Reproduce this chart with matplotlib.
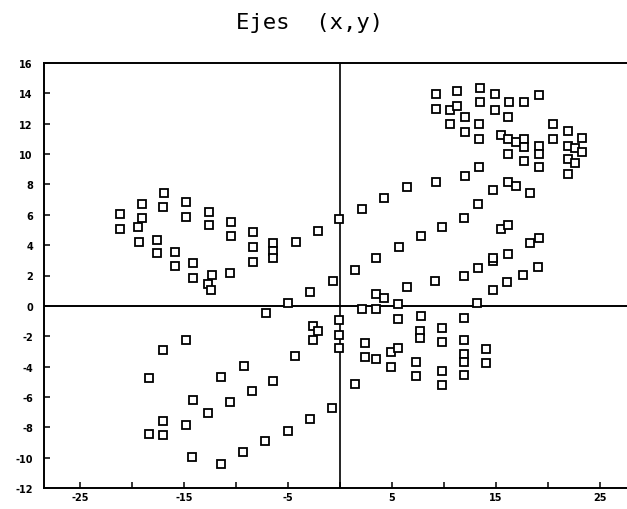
import matplotlib
matplotlib.use("Agg")
import matplotlib.pyplot as plt

title = "Ejes  (x,y)"

x_vals = [
    -16.9, -19.0, -17.0, -14.8, -21.2, -19.0, -14.8, -12.6, -21.2, -19.4,
    -12.6, -10.5, -19.3, -17.6, -10.5, -8.4, -17.6, -15.9, -8.4, -8.4,
    -15.9, -14.1, -14.1, -12.3, -12.7, -12.4, -10.6,
    -14.8, -17.0, -9.2, -18.4, -11.4, -8.5, -14.1, -10.6, -12.7, -17.0,
    -14.8, -18.4, -17.0, -14.2, -11.4, -9.3,
    -7.2, -5.0, -2.9, -0.8, 1.4, -6.4, -4.3, -2.6, -2.1, -2.6,
    -0.1, -0.1, -0.1, -7.1, -5.0, -2.9, -0.7, 1.4, 3.5,
    -6.4, -6.4, -6.4, -4.2, -2.1, -0.1, 2.1, 4.2, 6.4, 9.2,
    3.5, 4.2, 2.1, 3.5, 5.6, 5.6, 6.4, 5.7, 7.8, 9.8,
    2.4, 2.4, 3.5, 4.9, 5.6, 4.9, 7.3, 7.3, 7.8, 7.7, 7.7,
    9.8, 9.8, 9.8, 9.8,
    11.9, 11.9, 14.0, 11.9, 11.9, 14.0, 11.9, 13.2,
    9.1, 11.9, 13.3, 14.7, 16.2, 14.7, 16.1, 17.6, 19.0, 14.7,
    15.5, 16.2, 18.3, 19.1, 11.9, 13.3, 14.7, 16.2, 16.9, 18.3,
    12.0, 13.4, 19.1,
    9.2, 11.3, 13.5, 14.9, 16.3, 17.7, 19.1, 9.2, 10.6, 11.3,
    13.5, 14.9, 12.0, 10.6, 13.4, 16.2, 12.0, 13.4, 15.5, 16.2,
    16.9, 17.7, 17.7, 19.1, 19.1, 16.2, 17.7, 20.5, 20.5, 21.9,
    23.3, 21.9, 22.6, 23.3, 21.9, 22.6, 21.9,
]

y_vals = [
    7.44, 6.74, 6.54, 6.83, 6.04, 5.78, 5.86, 6.19, 5.07, 5.22,
    5.32, 5.53, 4.24, 4.37, 4.63, 4.86, 3.47, 3.58, 3.87, 2.92,
    2.62, 2.81, 1.84, 2.06, 1.45, 1.07, 2.19,
    -2.22, -2.92, -3.93, -4.74, -4.70, -5.62, -6.17, -6.32, -7.07, -7.56,
    -7.82, -8.45, -8.48, -9.93, -10.39, -9.62,
    -8.91, -8.23, -7.46, -6.74, -5.14, -4.92, -3.31, -1.30, -1.65, -2.22,
    -0.90, -1.89, -2.79, -0.46, 0.22, 0.94, 1.63, 2.39, 3.16,
    4.13, 3.62, 3.14, 4.22, 4.94, 5.71, 6.41, 7.11, 7.84, 8.19,
    0.79, 0.53, -0.20, -0.20, 0.09, -0.86, 1.27, 3.87, 4.57, 5.18,
    -2.44, -3.38, -3.51, -3.01, -2.79, -4.02, -3.67, -4.59, -0.68, -1.63, -2.13,
    -1.45, -2.39, -4.30, -5.20,
    -0.81, -2.22, -2.83, -3.16, -3.67, -3.77, -4.53, 0.18,
    1.65, 1.98, 2.48, 2.94, 3.43, 1.05, 1.56, 2.04, 2.57, 3.14,
    5.07, 5.34, 4.15, 4.46, 5.78, 6.72, 7.64, 8.15, 7.89, 7.42,
    8.58, 9.14, 9.14,
    13.93, 14.13, 14.38, 13.95, 13.42, 13.42, 13.90, 12.94, 12.91, 13.14,
    13.42, 12.91, 12.43, 11.97, 11.97, 12.43, 11.44, 11.00, 11.25, 11.00,
    10.78, 11.00, 10.45, 10.52, 10.01, 9.99, 9.53, 11.97, 11.00, 11.55,
    11.07, 10.56, 10.39, 10.13, 9.68, 9.42, 8.70,
]

x_ticks = [-25, -20, -15, -10, -5, 0, 5, 10, 15, 20, 25]
x_tick_labels = ["-25", "", "-15", "", "-5", "", "5", "", "15", "", "25"]
y_ticks = [-12, -10, -8, -6, -4, -2, 0, 2, 4, 6, 8, 10, 12, 14, 16]
y_tick_labels = ["-12", "-10", "-8", "-6", "-4", "-2", "0", "2", "4", "6",
                 "8", "10", "12", "14", "16"]

fig = plt.figure(figsize=(6.27, 5.10), dpi=100)
ax = fig.add_axes([44 / 627, 21 / 510, 1 - 44 / 627, 425 / 510])

ax.axhline(0, color="black", lw=1.4, zorder=1)
ax.axvline(0, color="black", lw=1.2, zorder=1)

ax.plot(x_vals, y_vals, linestyle="none", marker="s", markersize=5.6,
        markerfacecolor="white", markeredgecolor="black",
        markeredgewidth=1.3, zorder=3)

ax.set_xlim(-28.46, 27.6)
ax.set_ylim(-12, 16)

ax.set_xticks(x_ticks)
ax.set_xticklabels(x_tick_labels)
ax.set_yticks(y_ticks)
ax.set_yticklabels(y_tick_labels)

for lab in ax.get_xticklabels() + ax.get_yticklabels():
    lab.set_fontsize(7)
    lab.set_fontweight("bold")

ax.tick_params(axis="both", direction="in", length=4, width=1.1, color="black")
ax.tick_params(axis="x", pad=3)
ax.tick_params(axis="y", pad=8)

for side in ["left", "top", "bottom"]:
    ax.spines[side].set_linewidth(1.4)
ax.spines["right"].set_visible(False)

fig.text(310 / 627, 1 - 23 / 510, title, ha="center", va="center",
         fontsize=16, family="DejaVu Sans Mono")

fig.savefig("out.png", dpi=100)
